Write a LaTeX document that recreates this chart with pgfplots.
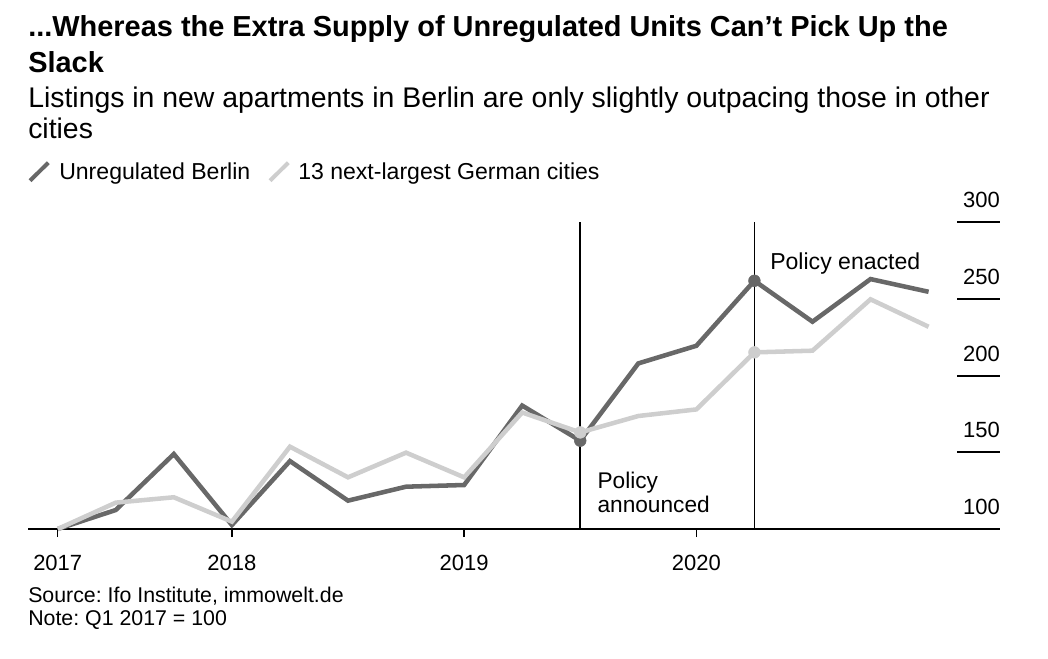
\documentclass[border=0pt]{standalone}
\usepackage{fontspec}
\setmainfont{Liberation Sans}
\usepackage{pgfplots}
\pgfplotsset{compat=1.18}
\definecolor{dk}{RGB}{104,104,104}
\definecolor{lt}{RGB}{206,206,206}
\frenchspacing
\begin{document}
\frenchspacing
\begin{tikzpicture}
\path[use as bounding box] (0,0) rectangle (786pt,-493.5pt);
\begin{axis}[at={(21pt,-396.75pt)}, anchor=south west, scale only axis,
  width=729pt, height=230pt,
  xmin=-0.512, xmax=16.23, ymin=100, ymax=300,
  axis x line=bottom, axis y line=none,
  axis line style={-, black, line width=1.5pt},
  xtick={0,3,7,11}, xticklabels={2017,2018,2019,2020}, ytick=\empty,
  tick align=outside, major tick length=6pt,
  tick style={black, line width=1.1pt},
  xticklabel style={font=\fontsize{16.5}{19}\selectfont, anchor=base, yshift=-25pt},
  clip=false]
\draw[black,line width=1.2pt] (axis cs:9,100) -- (axis cs:9,300);
\draw[black,line width=1.2pt] (axis cs:12,100) -- (axis cs:12,300);
\draw[black,line width=1.5pt] (axis cs:15.49,150) -- (axis cs:16.23,150);
\draw[black,line width=1.5pt] (axis cs:15.49,200) -- (axis cs:16.23,200);
\draw[black,line width=1.5pt] (axis cs:15.49,250) -- (axis cs:16.23,250);
\draw[black,line width=1.5pt] (axis cs:15.49,300) -- (axis cs:16.23,300);
\node[anchor=base east,inner sep=0,font=\fontsize{16.5}{19}\selectfont,yshift=10.9pt] at (axis cs:16.23,100) {100};
\node[anchor=base east,inner sep=0,font=\fontsize{16.5}{19}\selectfont,yshift=10.9pt] at (axis cs:16.23,150) {150};
\node[anchor=base east,inner sep=0,font=\fontsize{16.5}{19}\selectfont,yshift=10.9pt] at (axis cs:16.23,200) {200};
\node[anchor=base east,inner sep=0,font=\fontsize{16.5}{19}\selectfont,yshift=10.9pt] at (axis cs:16.23,250) {250};
\node[anchor=base east,inner sep=0,font=\fontsize{16.5}{19}\selectfont,yshift=10.9pt] at (axis cs:16.23,300) {300};
\addplot[dk, line width=3.4pt, line join=miter, miter limit=2, mark=none] coordinates {
(0,100) (1,112.4) (2,148.9) (3,102.6) (4,144.3) (5,118.5) (6,127.6) (7,128.7)
(8,180.5) (9,157.6) (10,208.0) (11,219.5) (12,261.9) (13,235.2) (14,263.0) (15,254.7)};
\addplot[only marks, mark=*, mark size=4.4pt, dk, mark options={draw=dk, fill=dk}] coordinates {(9,157.6) (12,261.9)};
\addplot[lt, line width=3.4pt, line join=miter, miter limit=2, mark=none] coordinates {
(0,100) (1,117.2) (2,120.7) (3,104.8) (4,153.7) (5,133.7) (6,149.8) (7,133.7)
(8,176.0) (9,163.0) (10,173.7) (11,178.0) (12,215.2) (13,216.3) (14,249.8) (15,231.9)};
\addplot[only marks, mark=*, mark size=4.4pt, lt, mark options={draw=lt, fill=lt}] coordinates {(9,163.0) (12,215.2)};
\end{axis}
\begin{scope}[x=0.75pt,y=-0.75pt]
\node[anchor=base west,inner sep=0,font=\fontsize{21.7}{26}\selectfont\bfseries] at (28,36.7) {...Whereas the Extra Supply of Unregulated Units Can’t Pick Up the};
\node[anchor=base west,inner sep=0,font=\fontsize{21.7}{26}\selectfont\bfseries] at (28,72.7) {Slack};
\node[anchor=base west,inner sep=0,font=\fontsize{21.3}{26}\selectfont] at (28,107.3) {Listings in new apartments in Berlin are only slightly outpacing those in other};
\node[anchor=base west,inner sep=0,font=\fontsize{21.3}{26}\selectfont] at (28,138.3) {cities};
\draw[dk,line width=3pt] (30,180.7) -- (48.3,162.7);
\node[anchor=base west,inner sep=0,font=\fontsize{17.3}{20}\selectfont] at (59,179) {Unregulated Berlin};
\draw[lt,line width=3pt] (270,180.7) -- (288.3,162.7);
\node[anchor=base west,inner sep=0,font=\fontsize{17.3}{20}\selectfont] at (298,179) {13 next-largest German cities};
\node[anchor=base west,inner sep=0,font=\fontsize{17.3}{20}\selectfont] at (770,269) {Policy enacted};
\node[anchor=base west,inner sep=0,font=\fontsize{17}{20}\selectfont] at (597.3,488) {Policy};
\node[anchor=base west,inner sep=0,font=\fontsize{17}{20}\selectfont] at (597.3,512.7) {announced};
\node[anchor=base west,inner sep=0,font=\fontsize{16}{19}\selectfont] at (28,602.7) {Source: Ifo Institute, immowelt.de};
\node[anchor=base west,inner sep=0,font=\fontsize{16}{19}\selectfont] at (28,625.7) {Note: Q1 2017 = 100};
\end{scope}
\end{tikzpicture}
\end{document}
